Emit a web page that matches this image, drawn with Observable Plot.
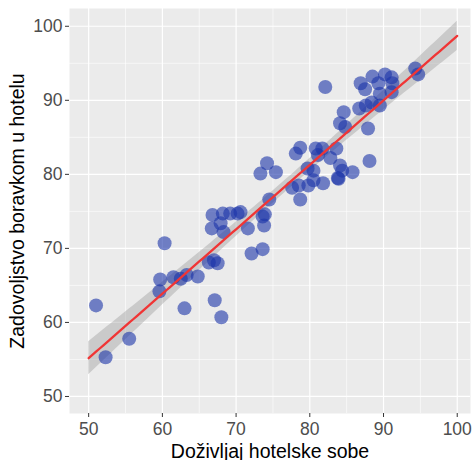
<!DOCTYPE html>
<html>
<head>
<meta charset="utf-8">
<script src="https://cdn.jsdelivr.net/npm/d3@7"></script>
<script src="https://cdn.jsdelivr.net/npm/@observablehq/plot@0.6"></script>
<style>
  html, body { margin: 0; padding: 0; background: #ffffff; }
  #chart { width: 474px; height: 460px; }
</style>
</head>
<body>
<div id="chart"></div>
<script>
// Doživljaj hotelske sobe (x) vs Zadovoljstvo boravkom u hotelu (y)
const roomExperience = [
  51.0, 52.3, 55.5, 59.6, 59.7, 60.3, 61.5, 62.5, 63.3, 63.0,
  64.8, 66.3, 67.0, 67.5, 67.1, 68.0, 66.7, 66.8, 68.2, 69.2,
  70.2, 70.6, 67.9, 68.3, 71.6, 72.1, 73.6, 73.6, 73.8, 73.9,
  74.5, 73.3, 74.2, 75.4, 77.6, 78.1, 78.7, 78.5, 78.7, 79.7,
  79.8, 80.5, 80.5, 80.8, 81.1, 81.7, 81.8, 82.1, 82.8, 83.6,
  83.8, 84.1, 84.4, 83.9, 85.8, 84.1, 84.8, 84.6, 87.9, 88.1,
  86.7, 87.6, 88.4, 89.5, 86.9, 87.5, 88.5, 89.3, 90.2, 91.1,
  91.2, 89.5, 91.1, 94.3, 94.7
];
const hotelSatisfaction = [
  62.3, 55.3, 57.8, 64.2, 65.8, 70.7, 66.1, 65.9, 66.4, 61.9,
  66.2, 68.1, 68.4, 68.0, 63.0, 60.7, 72.7, 74.5, 74.7, 74.7,
  74.7, 74.9, 73.4, 72.2, 72.7, 69.3, 69.9, 74.3, 73.1, 74.6,
  76.6, 80.1, 81.5, 80.3, 78.2, 82.8, 83.6, 78.5, 76.6, 80.8,
  78.5, 79.2, 80.5, 83.5, 82.6, 83.5, 78.8, 91.8, 82.2, 83.5,
  79.5, 81.2, 80.5, 79.4, 80.3, 86.9, 86.4, 88.4, 86.2, 81.8,
  88.9, 89.3, 89.7, 89.3, 92.3, 91.5, 93.2, 92.3, 93.5, 93.1,
  92.3, 90.9, 91.1, 94.3, 93.5
];
const xTicks = [50, 60, 70, 80, 90, 100];
const yTicks = [50, 60, 70, 80, 90, 100];
const xMinor = [55, 65, 75, 85, 95];
const yMinor = [55, 65, 75, 85, 95];
const xTitle = "Doživljaj hotelske sobe";
const yTitle = "Zadovoljstvo boravkom u hotelu";
const fitRange = [50, 100];

const points = roomExperience.map((x, i) => ({x, y: hotelSatisfaction[i]}));

// linear regression with 95% confidence band (like geom_smooth(method = "lm", fullrange = TRUE))
const n = points.length;
const mx = d3.mean(points, d => d.x), my = d3.mean(points, d => d.y);
const sxx = d3.sum(points, d => (d.x - mx) ** 2);
const sxy = d3.sum(points, d => (d.x - mx) * (d.y - my));
const slope = sxy / sxx, intercept = my - slope * mx;
const sse = d3.sum(points, d => (d.y - (intercept + slope * d.x)) ** 2);
const se = Math.sqrt(sse / (n - 2));
const tCrit = 1.993;
const fit = d3.range(fitRange[0], fitRange[1] + 0.001, 0.5).map(x => {
  const yhat = intercept + slope * x;
  const h = tCrit * se * Math.sqrt(1 / n + (x - mx) ** 2 / sxx);
  return {x, y: yhat, lo: yhat - h, hi: yhat + h};
});

const chart = Plot.plot({
  width: 474,
  height: 460,
  marginLeft: 69,
  marginRight: 4,
  marginTop: 8,
  marginBottom: 47,
  style: {fontFamily: "'Liberation Sans', Arial, sans-serif", fontSize: "17px", background: "#ffffff"},
  x: {domain: [47.4, 101.8]},
  y: {domain: [47.7, 102.4]},
  marks: [
    Plot.frame({fill: "#EBEBEB", stroke: null}),
    Plot.gridX(xMinor, {stroke: "#ffffff", strokeOpacity: 1, strokeWidth: 0.6}),
    Plot.gridY(yMinor, {stroke: "#ffffff", strokeOpacity: 1, strokeWidth: 0.6}),
    Plot.gridX(xTicks, {stroke: "#ffffff", strokeOpacity: 1, strokeWidth: 1.2}),
    Plot.gridY(yTicks, {stroke: "#ffffff", strokeOpacity: 1, strokeWidth: 1.2}),
    Plot.axisX(xTicks, {tickSize: 4, tickPadding: 5, stroke: "#333333", fill: "#4D4D4D", fontSize: 17.5, label: null}),
    Plot.axisY(yTicks, {tickSize: 4, tickPadding: 3, stroke: "#333333", fill: "#4D4D4D", fontSize: 17.5, label: null}),
    Plot.areaY(fit, {x: "x", y1: "lo", y2: "hi", fill: "#999999", fillOpacity: 0.4}),
    Plot.dot(points, {x: "x", y: "y", r: 7, fill: "#1a33a8", fillOpacity: 0.6, stroke: null}),
    Plot.line(fit, {x: "x", y: "y", stroke: "#f03535", strokeWidth: 2.3}),
    Plot.text([xTitle], {frameAnchor: "bottom", textAnchor: "middle", lineAnchor: "bottom", dy: 44, fontSize: 19.5, fill: "#000000", text: d => d}),
    Plot.text([yTitle], {frameAnchor: "left", textAnchor: "middle", lineAnchor: "bottom", rotate: -90, dx: -46, fontSize: 19.5, fill: "#000000", text: d => d})
  ]
});
document.getElementById("chart").appendChild(chart);
</script>
</body>
</html>
